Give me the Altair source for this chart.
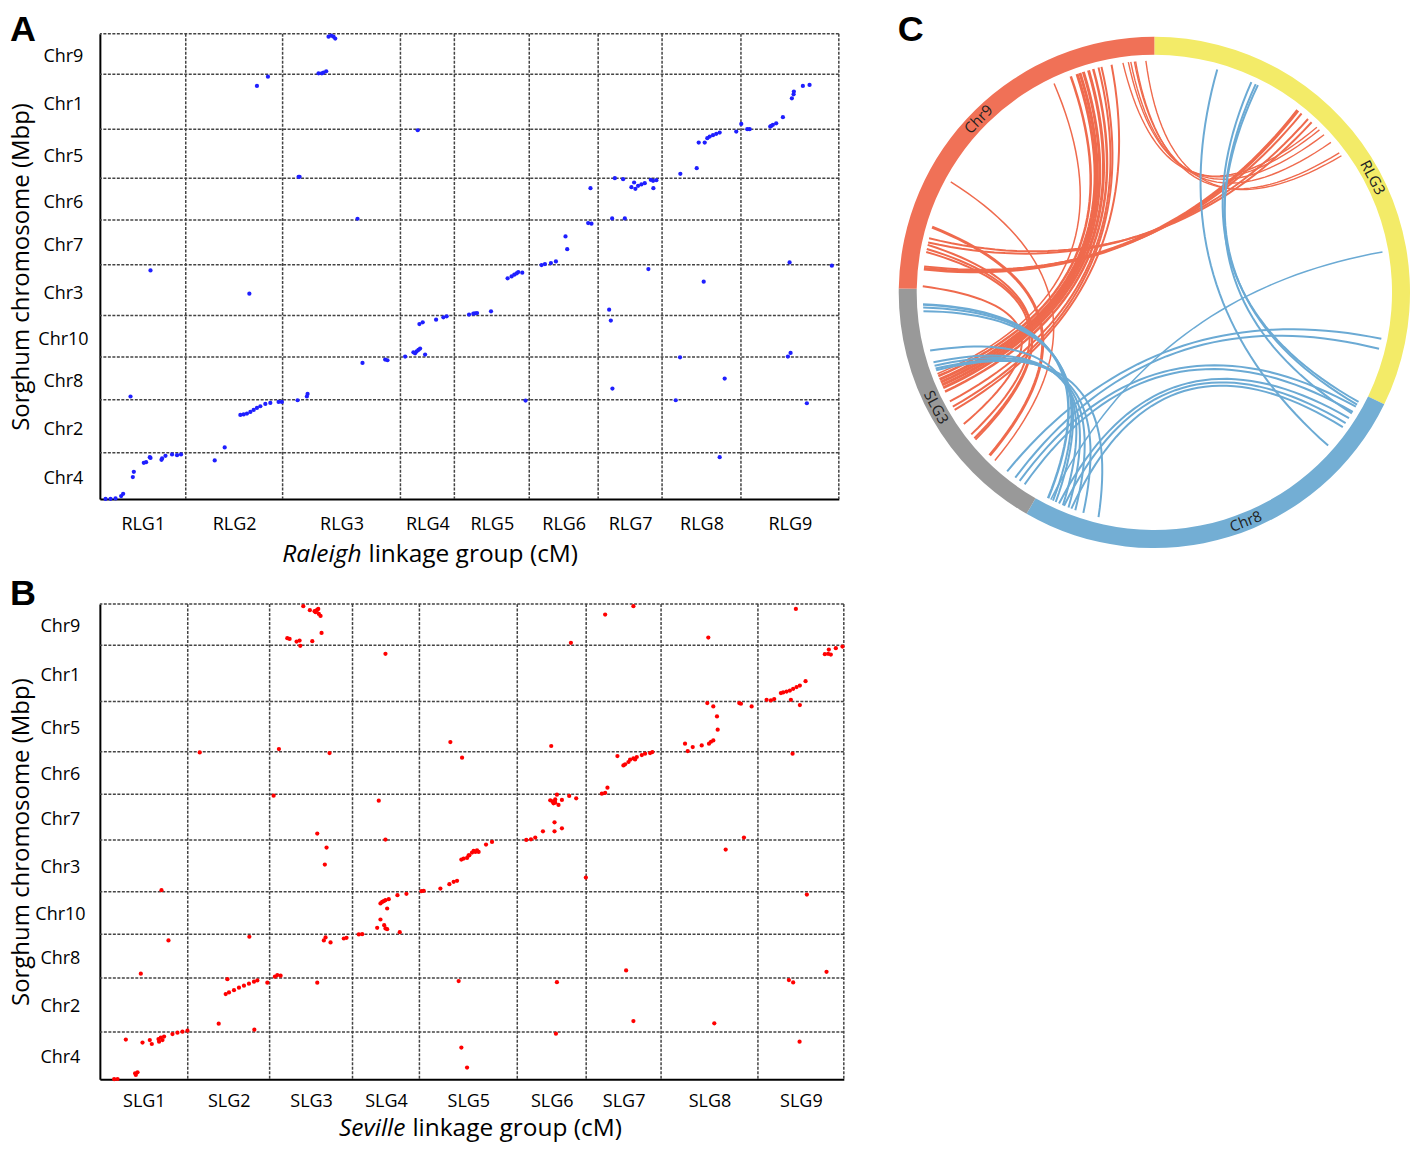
import math
import altair as alt
import pandas as pd

FONT = "Open Sans"
LETTER_FONT = "Liberation Sans"

# ---------------- shared genome layout ----------------
# Sorghum chromosomes from bottom to top, sizes in Mbp
chrom_names = ["Chr4", "Chr2", "Chr8", "Chr10", "Chr3", "Chr7", "Chr6", "Chr5", "Chr1", "Chr9"]
chrom_mbp = [68.0, 77.7, 62.7, 61.2, 74.4, 65.5, 61.3, 71.9, 80.9, 59.4]

rlg_names = ["RLG1", "RLG2", "RLG3", "RLG4", "RLG5", "RLG6", "RLG7", "RLG8", "RLG9"]
rlg_cm = [86, 97, 118, 54, 75, 69, 64, 79, 98]
slg_names = ["SLG1", "SLG2", "SLG3", "SLG4", "SLG5", "SLG6", "SLG7", "SLG8", "SLG9"]
slg_cm = [88, 82, 83, 67, 98, 69, 75, 97, 86]

# ---------------- panel A: Raleigh markers (cumulative cM, cumulative Mbp) ----------------
raleigh_cm = [
    229.0, 231.7, 234.0, 235.7, 219.0, 222.3, 224.0, 226.7, 168.3, 157.3, 318.3, 199.0, 200.0, 258.0,
    710.7, 704.0, 695.0, 694.7, 693.0, 684.0, 677.3, 674.0, 672.3, 671.3, 642.3, 650.7, 648.3, 637.3,
    620.7, 617.3, 614.0, 610.7, 608.3, 605.7, 599.7, 597.7, 581.3, 557.3, 554.0, 551.7, 554.3,
    545.7, 542.3, 539.0, 536.3, 532.3, 535.0, 524.0, 515.7, 491.3, 492.3, 489.0, 513.0, 525.7,
    466.3, 468.0, 456.7, 451.7, 445.7, 442.3, 690.7, 733.0,
    50.7, 149.7, 347.3, 344.0, 336.7, 323.3, 320.0, 325.7, 320.7, 319.0, 317.3, 315.7, 314.0,
    305.7, 285.7, 288.0, 263.0, 208.0, 207.3, 198.0,
    182.3, 179.0, 170.7, 165.7, 160.7, 157.3, 154.0, 150.7, 147.3, 144.0, 140.7,
    125.0, 115.0, 30.7,
    81.3, 77.3, 72.3, 65.7, 61.7, 62.3, 50.7, 50.0, 46.3, 44.0, 34.0, 33.0, 23.3, 21.3, 15.7, 10.7, 5.7,
    369.7, 374.0, 375.7, 377.7, 391.7, 408.3, 412.3, 415.0, 417.3, 419.0, 423.0,
    549.3, 604.7, 510.0, 511.7, 581.0, 689.0, 691.7, 625.7, 513.3, 426.3, 576.7, 708.0, 620.7,
]
raleigh_mbp = [
    678.8, 680.2, 678.8, 675.9, 625.0, 625.0, 626.0, 628.0, 620.1, 606.5, 541.4, 473.1, 473.1, 411.5,
    607.9, 606.5, 598.1, 594.2, 588.3, 560.5, 551.6, 549.3, 547.8, 546.8, 550.7, 542.9, 542.9, 539.5,
    538.0, 536.1, 534.1, 532.2, 529.7, 523.4, 523.4, 485.7, 477.5, 468.1, 467.2, 468.7, 456.4,
    463.7, 461.8, 459.9, 455.5, 457.9, 464.7, 469.6, 471.0, 456.4, 404.2, 405.1, 411.9, 411.9,
    385.6, 366.9, 348.9, 346.4, 345.0, 343.5, 347.4, 342.6,
    335.7, 301.5, 268.3, 266.8, 263.4, 259.5, 257.0, 212.1, 220.9, 218.9, 217.0, 214.0, 215.5,
    209.2, 204.8, 203.8, 199.8, 154.4, 150.6, 145.1,
    142.6, 142.6, 141.1, 139.7, 136.3, 133.8, 130.9, 128.0, 125.6, 124.2, 123.6,
    75.8, 56.7, 150.6,
    65.5, 64.5, 65.5, 63.5, 57.6, 59.7, 60.5, 61.6, 54.2, 53.2, 40.0, 32.3, 7.8, 4.4, 1.0, 0.5, 0.3,
    270.8, 272.2, 272.7, 273.1, 275.6, 324.0, 326.9, 329.4, 331.3, 333.2, 332.3,
    337.6, 319.2, 278.1, 262.0, 208.2, 209.2, 214.5, 176.9, 162.3, 144.7, 145.1, 140.7, 61.6,
]

# ---------------- panel B: Seville markers (cumulative cM, cumulative Mbp) ----------------
seville_cm = [
    203.7, 210.3, 215.0, 216.0, 217.7, 218.7, 219.3, 221.0, 216.7, 222.0, 187.7, 190.0, 197.0, 200.0, 200.7, 212.7,
    286.0, 351.0, 362.7, 100.0, 179.3, 230.0, 174.0, 279.3, 217.7, 286.0,
    534.3, 506.0, 471.7, 609.3, 697.0, 743.7, 737.0, 732.0, 730.0, 729.3, 726.0,
    706.7, 701.0, 697.7, 694.3, 691.0, 687.7, 684.3, 682.0, 675.3, 672.0, 667.7, 692.0, 701.0, 652.7, 642.0, 640.3, 614.3, 608.3,
    618.0, 618.7, 614.3, 612.0, 610.0, 602.7, 593.7, 586.0, 588.7, 693.7,
    553.3, 551.0, 546.0, 542.7, 537.7, 534.3, 531.0, 526.0, 524.3, 518.3, 529.3, 536.0,
    452.0, 508.3, 506.0, 502.7, 477.0, 470.0, 457.7, 456.0, 453.3, 451.0, 459.3, 462.7, 454.3, 456.0,
    455.3, 455.3, 462.7, 443.7, 436.0, 431.7, 427.0, 392.7, 645.0,
    227.0, 225.3, 61.7, 68.7, 41.0, 149.7,
    362.0, 364.3, 369.3, 372.7, 374.3, 357.7, 354.3, 350.0, 341.0, 324.3, 322.0, 307.0, 298.0,
    289.3, 286.0, 282.7, 281.0, 287.7, 284.3, 281.0, 284.7, 286.0, 287.7, 277.7, 300.3,
    262.7, 259.3, 247.0, 244.3, 231.0, 226.0, 224.3,
    177.7, 175.3, 181.0, 167.7, 217.7, 359.3,
    127.7, 157.7, 154.3, 149.3, 144.3, 139.3, 134.3, 129.3, 126.0,
    119.0, 154.7, 87.7, 82.7, 77.7, 72.7,
    64.3, 61.0, 59.3, 62.7, 58.7, 52.0, 50.0, 42.7, 26.0,
    37.7, 36.0, 35.3, 17.7, 14.3, 362.0, 367.7,
    626.7, 486.7, 708.0, 527.0, 727.7, 457.7, 690.0, 694.3, 534.3, 615.3, 456.7, 700.7,
    386.7, 379.3, 377.7, 376.0, 370.0, 367.7,
]
seville_mbp = [
    679.8, 674.0, 672.6, 671.1, 674.4, 675.9, 668.7, 665.8, 673.5, 641.4, 633.8, 632.8, 629.0, 630.4, 622.8, 629.5,
    611.3, 484.6, 462.1, 469.7, 474.5, 468.8, 407.5, 400.4, 353.0, 344.4,
    679.8, 667.7, 627.1, 634.7, 675.9, 621.8, 619.5, 610.3, 617.5, 611.3, 610.9,
    572.1, 565.8, 563.5, 561.1, 558.6, 557.2, 555.8, 554.9, 546.3, 544.3, 545.3, 545.3, 537.7, 535.7, 539.6, 540.6, 535.7, 540.6,
    521.3, 502.3, 486.9, 485.0, 482.2, 479.7, 477.4, 482.2, 471.7, 467.8,
    470.2, 468.8, 467.8, 465.9, 463.1, 461.1, 459.2, 452.5, 451.0, 464.5, 455.9, 459.6,
    478.9, 419.0, 411.4, 410.4, 403.7, 407.1, 409.0, 402.2, 399.4, 400.8, 394.2, 401.4, 396.5, 397.5,
    369.2, 356.3, 360.6, 356.3, 347.3, 344.8, 344.0, 341.1, 347.3,
    332.9, 308.5, 271.7, 199.5, 151.7, 204.8,
    315.7, 317.1, 321.9, 325.7, 328.2, 285.1, 283.7, 280.3, 274.1, 270.8, 270.2, 266.5, 264.5,
    258.7, 257.3, 254.9, 252.6, 245.4, 255.9, 229.6, 221.4, 216.7, 215.7, 217.7, 211.4,
    208.5, 208.1, 203.3, 202.3, 196.6, 203.8, 199.5,
    149.7, 147.4, 148.8, 138.8, 138.8, 141.1,
    143.9, 142.1, 140.2, 137.3, 134.5, 131.6, 128.1, 124.8, 122.4,
    79.9, 71.3, 69.9, 68.4, 67.0, 65.0,
    61.3, 59.8, 54.1, 56.4, 57.8, 50.7, 56.4, 52.7, 57.0,
    10.0, 6.2, 8.6, 0.4, 0.2, 45.5, 16.8,
    330.0, 289.9, 265.5, 156.4, 154.5, 139.6, 142.5, 139.2, 83.7, 80.4, 65.6, 54.1,
    337.2, 326.7, 329.1, 326.7, 321.9, 318.1,
]

# ---------------- panel C: circos ----------------
ring_names = ["RLG3", "Chr8", "SLG3", "Chr9"]
ring_len = [77.3, 62.7, 40.6, 59.4]
ring_colors = ["#F3EB68", "#73AED4", "#999999", "#F07157"]
ring_label_pos = [41.5, 28.2, 21.5, 29.1]

link_seg_a = (["Chr9"] * 26 + ["SLG3"] * 12 + ["Chr8"] * 4 + ["RLG3"] * 4)
link_pos_a = [
    3.3, 3.7, 7.7, 8.4,
    54.2, 55.1, 55.5, 56.1, 56.3, 58.0,
    42.3, 45.3, 46.4, 46.9, 47.5, 48.4, 49.2, 50.1, 50.6, 52.3,
    0.4, 6.1, 6.6, 7.3, 10.3, 18.4,
    38.0, 37.5, 36.9, 30.3, 28.3, 27.7, 27.2, 26.9,
    6.3, 4.6, 3.7, 2.7,
    60.4, 58.9, 58.0, 56.7,
    10.5, 16.5, 17.3, 17.7,
]
link_seg_b = (["RLG3"] * 10 + ["SLG3"] * 16 + ["Chr8"] * 8 + ["RLG3", "RLG3", "Chr8", "Chr8"]
              + ["RLG3", "Chr8", "Chr8", "Chr8"] + ["Chr8"] * 4)
link_pos_b = [
    25.5, 26.3, 27.7, 28.5,
    29.7, 30.3, 31.4, 33.1, 35.3, 35.9,
    26.3, 25.9, 25.3, 24.8, 24.3, 23.8, 23.1, 21.3, 20.3, 19.7,
    16.9, 14.8, 13.7, 14.0, 10.2, 9.0,
    60.9, 60.0, 59.5, 58.2, 57.2, 56.0, 54.6, 52.0,
    67.7, 69.4, 2.4, 3.4,
    53.3, 4.6, 5.6, 6.4,
    10.3, 1.5, 2.0, 3.7,
]
link_width = [
    3.5, 2, 2, 2,
    1.4, 1.4, 1.4, 1.4, 1.4, 1.4,
    1.5, 2.5, 3, 3, 3, 3, 2.5, 2, 2, 2,
    2, 2, 2, 2, 3, 1.5,
    2.5, 2, 2, 2, 2, 2, 2, 2,
    2, 2, 2, 2,
    1.5, 2, 2, 2,
    2, 2, 2, 2,
]
LINK_RED = "#EF6A4D"
LINK_BLUE = "#6BAAD4"

LETTER_TOP = -21      # letters sit above each panel's plot area
LEFT_EXT = 90         # distance from page content edge to plot area


def cum(vals):
    out, s = [], 0.0
    for v in vals:
        s += v
        out.append(round(s, 4))
    return out


def centers(vals):
    ends = cum(vals)
    return [e - v / 2 for e, v in zip(ends, vals)]


def label_expr(names, lengths):
    ends = cum(lengths)
    expr = f"'{names[-1]}'"
    for n, e in reversed(list(zip(names[:-1], ends[:-1]))):
        expr = f"datum.value < {e} ? '{n}' : " + expr
    return expr


def one_text(txt):
    return pd.DataFrame({"t": [txt]})


def dot_panel(xs, ys, lg_names, lg_len, color, width, height, letter, word,
              word_right, rest_left, xtitle_y, ylabel_pad, xlabel_pad, letter_y, ylabel_off):
    xb = cum(lg_len)
    yb = cum(chrom_mbp)
    xscale = alt.Scale(domain=[0, xb[-1]], nice=False, zero=False)
    yscale = alt.Scale(domain=[0, yb[-1]], nice=False, zero=False)
    x_axis = alt.Axis(values=centers(lg_len), labelExpr=label_expr(lg_names, lg_len),
                      ticks=False, tickSize=0, grid=False, domainColor="black", domainWidth=2,
                      labelFont=FONT, labelFontSize=18, labelColor="black", labelPadding=xlabel_pad,
                      labelOverlap=False, labelFlush=False, title=None)
    y_axis = alt.Axis(values=centers(chrom_mbp), labelExpr=label_expr(chrom_names, chrom_mbp),
                      ticks=False, tickSize=0, grid=False, domainColor="black", domainWidth=2,
                      labelFont=FONT, labelFontSize=18, labelColor="black", labelPadding=ylabel_pad,
                      labelOffset=ylabel_off,
                      labelAlign="center", labelBaseline="middle", labelOverlap=False, labelFlush=False,
                      title="Sorghum chromosome (Mbp)", titleFont=FONT, titleFontSize=24,
                      titleFontWeight="normal", titleColor="black", titleX=-(LEFT_EXT - 12),
                      titleY=height / 2, titleAngle=270, titleAlign="center", titleBaseline="middle")
    X = alt.X("x:Q", scale=xscale, axis=x_axis)
    Y = alt.Y("y:Q", scale=yscale, axis=y_axis)
    grid_style = dict(color="#444444", strokeWidth=1.5, strokeDash=[3, 1.5])
    vr = alt.Chart(pd.DataFrame({"x": xb})).mark_rule(**grid_style).encode(x=X)
    hr = alt.Chart(pd.DataFrame({"y": yb})).mark_rule(**grid_style).encode(y=Y)
    pts = alt.Chart(pd.DataFrame({"x": xs, "y": ys})).mark_circle(
        size=18, color=color, opacity=1).encode(x=X, y=Y)
    t1 = alt.Chart(one_text(word)).mark_text(
        font=FONT, fontSize=24.5, fontStyle="italic", align="right", baseline="middle", color="black"
    ).encode(x=alt.value(word_right), y=alt.value(xtitle_y), text="t:N")
    t2 = alt.Chart(one_text("linkage group (cM)")).mark_text(
        font=FONT, fontSize=24.5, align="left", baseline="middle", color="black"
    ).encode(x=alt.value(rest_left), y=alt.value(xtitle_y), text="t:N")
    lt = alt.Chart(one_text(letter)).mark_text(
        font=LETTER_FONT, fontSize=36, fontWeight="bold", align="left", baseline="top", color="black"
    ).encode(x=alt.value(-LEFT_EXT), y=alt.value(letter_y), text="t:N")
    return alt.layer(hr, vr, pts, t1, t2, lt).properties(width=width, height=height)


panel_a = dot_panel(raleigh_cm, raleigh_mbp, rlg_names, rlg_cm, "#1F1FFF", 740, 466, "A",
                    "Raleigh", 262, 269, 522, 37, 16, LETTER_TOP, 3)
panel_b = dot_panel(seville_cm, seville_mbp, slg_names, slg_cm, "#FF0000", 745, 476, "B",
                    "Seville", 306, 313, 526, 40, 13, -27, 2)

# ---------------- circos geometry ----------------
PX = 256.0                      # pixels per unit radius
R_LINK = 232.0 / PX
R_LABEL = 247.0 / PX
total = sum(ring_len)
seg_start = dict(zip(ring_names, [0.0] + cum(ring_len)[:-1]))


def ang(seg, pos):
    return (seg_start[seg] + pos) / total * 360.0


ring_df = pd.DataFrame({
    "name": ring_names,
    "start": [seg_start[n] for n in ring_names],
    "end": [seg_start[n] + l for n, l in zip(ring_names, ring_len)],
    "color": ring_colors,
})

lbl_rows = []
for n, p in zip(ring_names, ring_label_pos):
    th = ang(n, p)
    r = math.radians(th)
    rot = th if (th <= 90 or th >= 270) else (th - 180) % 360
    lbl_rows.append({"name": n, "x": R_LABEL * math.sin(r), "y": R_LABEL * math.cos(r), "rot": rot})
lbl_df = pd.DataFrame(lbl_rows)

link_rows = []
for i, (sa, pa, sb, pb, w) in enumerate(zip(link_seg_a, link_pos_a, link_seg_b, link_pos_b, link_width)):
    a1, a2 = ang(sa, pa), ang(sb, pb)
    r1, r2 = math.radians(a1), math.radians(a2)
    p0 = (R_LINK * math.sin(r1), R_LINK * math.cos(r1))
    p2 = (R_LINK * math.sin(r2), R_LINK * math.cos(r2))
    d = abs(a1 - a2) % 360
    d = min(d, 360 - d)
    mx, my = math.sin(r1) + math.sin(r2), math.cos(r1) + math.cos(r2)
    nrm = math.hypot(mx, my)
    k = 0.4 * max(0.0, 1 - d / 100.0)
    c = (R_LINK * k * mx / nrm, R_LINK * k * my / nrm) if nrm > 1e-9 else (0.0, 0.0)
    col = LINK_RED if "Chr9" in (sa, sb) else LINK_BLUE
    for j in range(41):
        t = j / 40
        x = (1 - t) ** 2 * p0[0] + 2 * (1 - t) * t * c[0] + t ** 2 * p2[0]
        y = (1 - t) ** 2 * p0[1] + 2 * (1 - t) * t * c[1] + t ** 2 * p2[1]
        link_rows.append({"id": i, "t": j, "x": x, "y": y, "col": col, "w": w})
link_df = pd.DataFrame(link_rows)

C_W, C_H = 514, 518
C_LEFT = 260        # pixels from view left edge to the circle centre
cx = alt.Scale(domain=[-C_LEFT / PX, (C_W - C_LEFT) / PX], nice=False, zero=False)
cy = alt.Scale(domain=[-(C_H / 2) / PX, (C_H / 2) / PX], nice=False, zero=False)

ring = alt.Chart(ring_df).mark_arc(strokeWidth=0).encode(
    x=alt.XDatum(datum=0, type="quantitative", scale=cx, axis=None),
    y=alt.YDatum(datum=0, type="quantitative", scale=cy, axis=None),
    theta=alt.Theta("start:Q", stack=None, scale=alt.Scale(domain=[0, total], range=[0, 2 * math.pi])),
    theta2="end:Q",
    radius=alt.value(256),
    radius2=alt.value(238),
    color=alt.Color("color:N", scale=None),
)
links = alt.Chart(link_df).mark_line(opacity=1).encode(
    x=alt.X("x:Q", scale=cx, axis=None),
    y=alt.Y("y:Q", scale=cy, axis=None),
    detail="id:N",
    order="t:Q",
    color=alt.Color("col:N", scale=None),
    strokeWidth=alt.StrokeWidth("w:Q", scale=None),
)
labels = alt.Chart(lbl_df).mark_text(
    font=FONT, fontSize=15, align="center", baseline="middle", color="#222222"
).encode(
    x=alt.X("x:Q", scale=cx, axis=None),
    y=alt.Y("y:Q", scale=cy, axis=None),
    text="name:N",
    angle=alt.Angle("rot:Q", scale=None),
)
letter_c = alt.Chart(one_text("C")).mark_text(
    font=LETTER_FONT, fontSize=36, fontWeight="bold", align="left", baseline="top", color="black"
).encode(x=alt.value(3), y=alt.value(LETTER_TOP), text="t:N")

panel_c = alt.layer(ring, links, labels, letter_c).properties(width=C_W, height=C_H)

chart = alt.hconcat(
    alt.vconcat(panel_a, panel_b, spacing=9),
    panel_c,
    spacing=50,
).configure_view(stroke=None).properties(
    padding={"left": 1, "top": 3, "right": 0, "bottom": 0}, background="white"
)

chart.save("out.html", embed_options={"renderer": "svg", "actions": False})
